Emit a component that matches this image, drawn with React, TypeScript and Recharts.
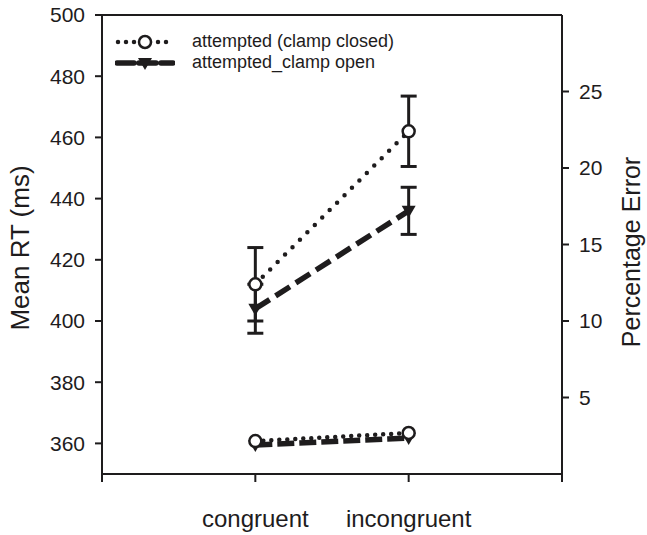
import React from 'react';
import { ComposedChart, Line, XAxis, YAxis, ErrorBar, ReferenceLine } from 'recharts';

const categories = ['congruent', 'incongruent'];
const categoryX = [1, 2];
const rtClosed = [412, 462];
const rtClosedErr = [12, 11.5];
const rtOpen = [404, 436];
const rtOpenErr = [8, 7.7];
const errClosed = [2.15, 2.68];
const errOpen = [1.9, 2.35];
const rtTicks = [360, 380, 400, 420, 440, 460, 480, 500];
const errTicks = [5, 10, 15, 20, 25];
const xTicks = [0, 1, 2, 3];
const seriesNames = ['attempted (clamp closed)', 'attempted_clamp open'];

const INK = '#1e1c1d';
const FONT = 'Liberation Sans, Arial, sans-serif';

const data = categories.map((c, i) => ({
  x: categoryX[i],
  name: c,
  rtClosed: rtClosed[i],
  rtClosedErr: rtClosedErr[i],
  rtOpen: rtOpen[i],
  rtOpenErr: rtOpenErr[i],
  errClosed: errClosed[i],
  errOpen: errOpen[i],
}));

const CircleDot = (props: any) => {
  const { cx, cy, index } = props;
  if (cx == null || cy == null) return <g key={index} />;
  return <circle key={index} cx={cx} cy={cy} r={6} fill="#fff" stroke={INK} strokeWidth={2.5} />;
};

const TriangleDot = (props: any) => {
  const { cx, cy, index } = props;
  if (cx == null || cy == null) return <g key={index} />;
  return (
    <path
      key={index}
      d={`M${cx - 7},${cy - 5} L${cx + 7},${cy - 5} L${cx},${cy + 7} Z`}
      fill={INK}
    />
  );
};

const xLabel = (v: number) => {
  const i = categoryX.indexOf(v);
  return i >= 0 ? categories[i] : '';
};

const LegendBox = () => (
  <div
    style={{
      position: 'absolute',
      left: 115,
      top: 31,
      fontFamily: FONT,
      fontSize: 18,
      color: INK,
      lineHeight: '21px',
      pointerEvents: 'none',
    }}
  >
    <div style={{ display: 'flex', alignItems: 'center', height: 21 }}>
      <svg width={60} height={20} style={{ marginRight: 17 }}>
        <line x1={3} y1={10} x2={58} y2={10} stroke={INK} strokeWidth={4.5} strokeDasharray="0 8" strokeLinecap="round" />
        <circle cx={30} cy={10} r={6} fill="#fff" stroke={INK} strokeWidth={2.5} />
      </svg>
      <span>{seriesNames[0]}</span>
    </div>
    <div style={{ display: 'flex', alignItems: 'center', height: 21 }}>
      <svg width={60} height={20} style={{ marginRight: 17 }}>
        <line x1={2} y1={10} x2={58} y2={10} stroke={INK} strokeWidth={5.5} strokeDasharray="17 5" strokeLinecap="round" />
        <path d="M23,5 L37,5 L30,17 Z" fill={INK} />
      </svg>
      <span>{seriesNames[1]}</span>
    </div>
  </div>
);

const LeftTitle = (props: any) => {
  const vb = props.viewBox || {};
  const x = vb.x + 29;
  const y = vb.y + vb.height / 2 + 3.5;
  return (
    <text x={x} y={y} transform={`rotate(-90 ${x} ${y})`} textAnchor="middle" fontFamily={FONT} fontSize={26} fill={INK}>
      Mean RT (ms)
    </text>
  );
};

const RightTitle = (props: any) => {
  const vb = props.viewBox || {};
  const x = vb.x + 78;
  const y = vb.y + vb.height / 2 + 7.5;
  return (
    <text x={x} y={y} transform={`rotate(-90 ${x} ${y})`} textAnchor="middle" fontFamily={FONT} fontSize={25} fill={INK}>
      Percentage Error
    </text>
  );
};

export default function App() {
  return (
    <div style={{ position: 'absolute', left: 0, top: 0, width: 647, height: 535, background: '#fff' }}>
      <ComposedChart width={647} height={535} data={data} margin={{ top: 15, right: 0, bottom: 0, left: 0 }}>
        <XAxis
          dataKey="x"
          type="number"
          domain={[0, 3]}
          ticks={xTicks}
          tickFormatter={xLabel}
          interval={0}
          height={61}
          stroke={INK}
          strokeWidth={2}
          tickSize={8}
          tickMargin={28}
          tick={{ fontSize: 24, fontFamily: FONT, fill: INK }}
        />
        <YAxis
          yAxisId="rt"
          orientation="left"
          domain={[350, 500]}
          ticks={rtTicks}
          interval={0}
          width={102}
          stroke={INK}
          strokeWidth={2}
          tickSize={7}
          tickMargin={10}
          tick={{ fontSize: 21, fontFamily: FONT, fill: INK }}
          label={<LeftTitle />}
        />
        <YAxis
          yAxisId="err"
          orientation="right"
          domain={[0, 30]}
          ticks={errTicks}
          interval={0}
          width={85}
          stroke={INK}
          strokeWidth={2}
          tickSize={7}
          tickMargin={10}
          tick={{ fontSize: 21, fontFamily: FONT, fill: INK }}
          label={<RightTitle />}
        />
        <ReferenceLine yAxisId="rt" y={500} stroke={INK} strokeWidth={2} />
        <Line
          yAxisId="err"
          dataKey="errOpen"
          type="linear"
          stroke={INK}
          strokeWidth={5.5}
          strokeDasharray="17 5"
          dot={<TriangleDot />}
          activeDot={false}
          isAnimationActive={false}
        />
        <Line
          yAxisId="err"
          dataKey="errClosed"
          type="linear"
          stroke={INK}
          strokeWidth={4.5}
          strokeDasharray="0 8"
          strokeLinecap="round"
          dot={<CircleDot />}
          activeDot={false}
          isAnimationActive={false}
        />
        <Line
          yAxisId="rt"
          dataKey="rtOpen"
          type="linear"
          stroke={INK}
          strokeWidth={5.5}
          strokeDasharray="17 7"
          dot={<TriangleDot />}
          activeDot={false}
          isAnimationActive={false}
        >
          <ErrorBar dataKey="rtOpenErr" width={8} strokeWidth={3} stroke={INK} direction="y" isAnimationActive={false} />
        </Line>
        <Line
          yAxisId="rt"
          dataKey="rtClosed"
          type="linear"
          stroke={INK}
          strokeWidth={4.5}
          strokeDasharray="0 10.5"
          strokeLinecap="round"
          dot={<CircleDot />}
          activeDot={false}
          isAnimationActive={false}
        >
          <ErrorBar dataKey="rtClosedErr" width={8} strokeWidth={3} stroke={INK} direction="y" isAnimationActive={false} />
        </Line>
      </ComposedChart>
      <LegendBox />
    </div>
  );
}
